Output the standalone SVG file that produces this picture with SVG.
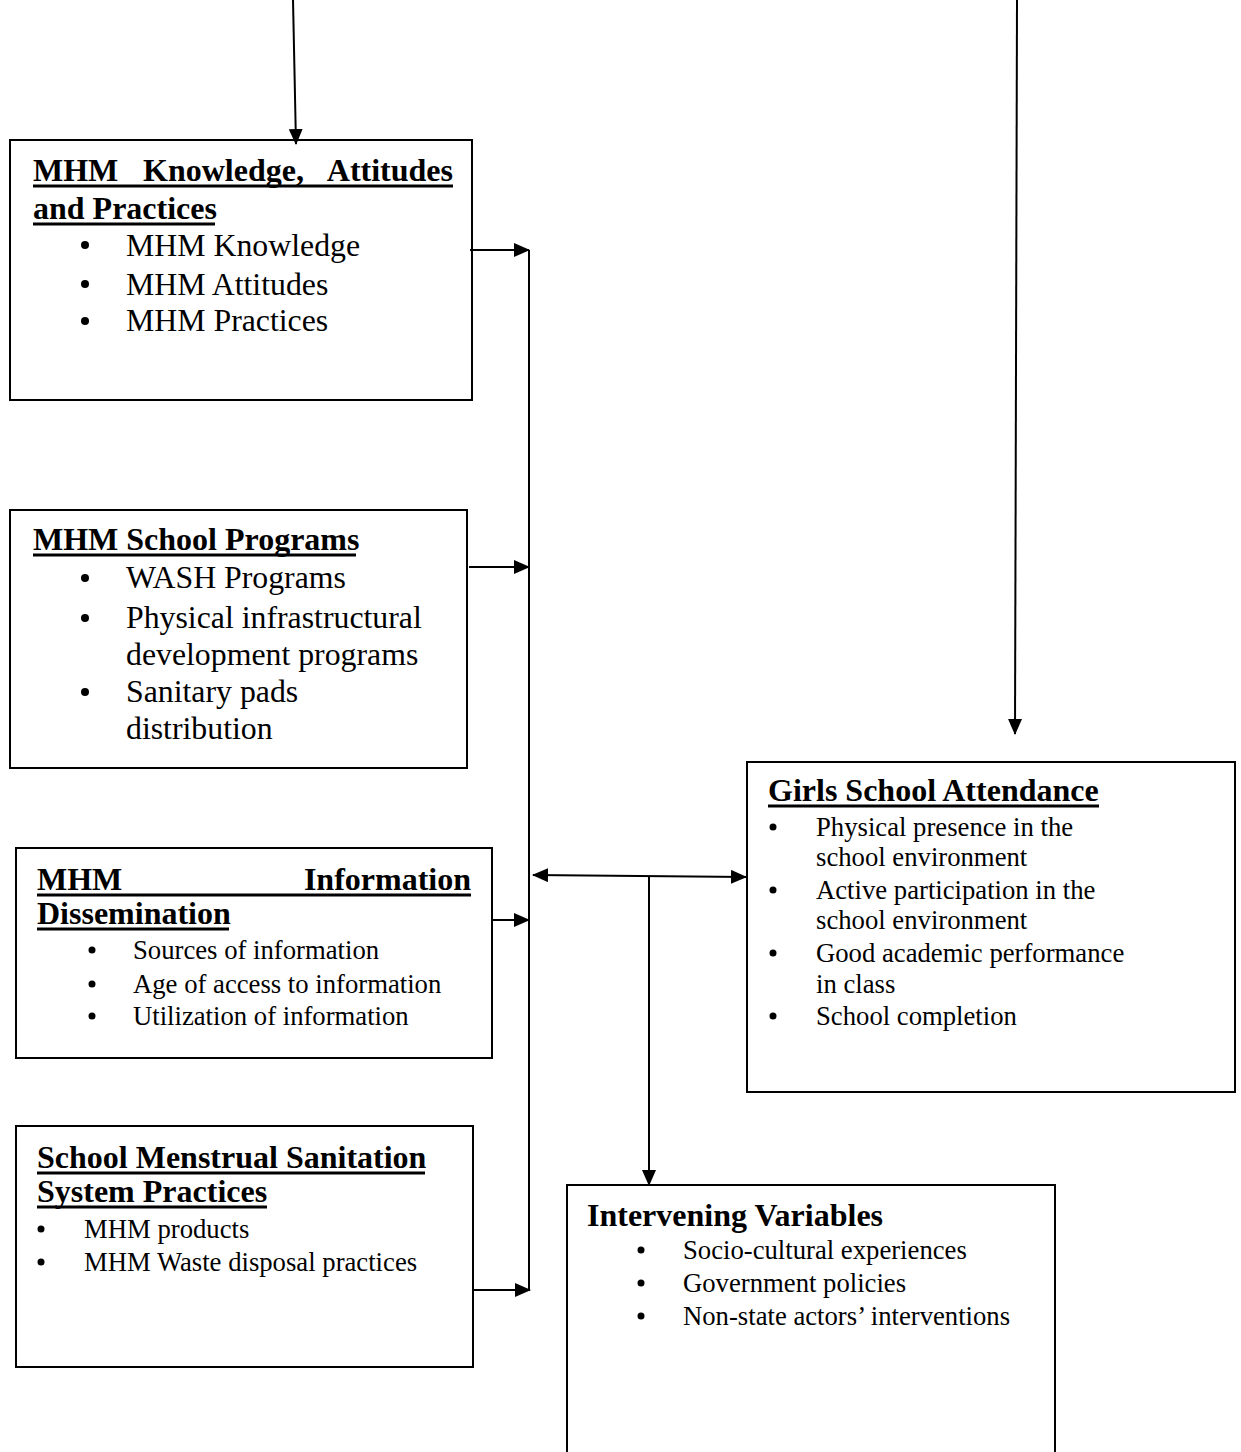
<svg xmlns="http://www.w3.org/2000/svg" width="1241" height="1452" viewBox="0 0 1241 1452">
<style>
.box{fill:#fff;stroke:#000;stroke-width:2}
.t{font-family:"Liberation Serif","Times New Roman",serif;font-weight:bold;font-size:32px;fill:#000}
.b{font-family:"Liberation Serif","Times New Roman",serif;font-size:31.8px;fill:#000}
.s{font-family:"Liberation Serif","Times New Roman",serif;font-size:26.7px;fill:#000}
.u{stroke:#000;stroke-width:3}
.c{stroke:#000;stroke-width:2;fill:none}
</style>
<defs>
<marker id="ah" markerUnits="userSpaceOnUse" markerWidth="16" markerHeight="14" refX="15" refY="7" orient="auto-start-reverse">
<path d="M0,0 L16,7 L0,14 Z" fill="#000"/>
</marker>
</defs>
<rect width="1241" height="1452" fill="#fff"/>

<g id="kap">
<rect class="box" x="10" y="140" width="462" height="260"/>
<text class="t" x="33" y="181">MHM</text>
<text class="t" x="143" y="181">Knowledge,</text>
<text class="t" x="453" y="181" text-anchor="end">Attitudes</text>
<line class="u" x1="33" y1="186" x2="453" y2="186"/>
<text class="t" x="33" y="219">and Practices</text>
<line class="u" x1="33" y1="224" x2="215" y2="224"/>
<circle cx="85" cy="245" r="4"/>
<text class="b" x="126" y="256">MHM Knowledge</text>
<circle cx="85" cy="284" r="4"/>
<text class="b" x="126" y="295">MHM Attitudes</text>
<circle cx="85" cy="321" r="4"/>
<text class="b" x="126" y="331">MHM Practices</text>
</g>

<g id="programs">
<rect class="box" x="10" y="510" width="457" height="258"/>
<text class="t" x="33" y="550">MHM School Programs</text>
<line class="u" x1="33" y1="555" x2="356" y2="555"/>
<circle cx="85" cy="578" r="4"/>
<text class="b" x="126" y="588">WASH Programs</text>
<circle cx="85" cy="618" r="4"/>
<text class="b" x="126" y="628">Physical infrastructural</text>
<text class="b" x="126" y="665">development programs</text>
<circle cx="85" cy="692" r="4"/>
<text class="b" x="126" y="702">Sanitary pads</text>
<text class="b" x="126" y="739">distribution</text>
</g>

<g id="info">
<rect class="box" x="16" y="848" width="476" height="210"/>
<text class="t" x="37" y="890">MHM</text>
<text class="t" x="471" y="890" text-anchor="end">Information</text>
<line class="u" x1="37" y1="895" x2="471" y2="895"/>
<text class="t" x="37" y="924">Dissemination</text>
<line class="u" x1="37" y1="929" x2="229" y2="929"/>
<circle cx="92" cy="950" r="3.5"/>
<text class="s" x="133" y="959">Sources of information</text>
<circle cx="92" cy="984" r="3.5"/>
<text class="s" x="133" y="993">Age of access to information</text>
<circle cx="92" cy="1016" r="3.5"/>
<text class="s" x="133" y="1025">Utilization of information</text>
</g>

<g id="sanitation">
<rect class="box" x="16" y="1126" width="457" height="241"/>
<text class="t" x="37" y="1168">School Menstrual Sanitation</text>
<line class="u" x1="37" y1="1173" x2="425" y2="1173"/>
<text class="t" x="37" y="1202">System Practices</text>
<line class="u" x1="37" y1="1207" x2="267" y2="1207"/>
<circle cx="41" cy="1229" r="3.5"/>
<text class="s" x="84" y="1238">MHM products</text>
<circle cx="41" cy="1262" r="3.5"/>
<text class="s" x="84" y="1271">MHM Waste disposal practices</text>
</g>

<g id="attendance">
<rect class="box" x="747" y="762" width="488" height="330"/>
<text class="t" x="768" y="801">Girls School Attendance</text>
<line class="u" x1="768" y1="806" x2="1099" y2="806"/>
<circle cx="773" cy="827" r="3.5"/>
<text class="s" x="816" y="836">Physical presence in the</text>
<text class="s" x="816" y="866">school environment</text>
<circle cx="773" cy="890" r="3.5"/>
<text class="s" x="816" y="899">Active participation in the</text>
<text class="s" x="816" y="929">school environment</text>
<circle cx="773" cy="953" r="3.5"/>
<text class="s" x="816" y="962">Good academic performance</text>
<text class="s" x="816" y="993">in class</text>
<circle cx="773" cy="1016" r="3.5"/>
<text class="s" x="816" y="1025">School completion</text>
</g>

<g id="intervening">
<rect class="box" x="567" y="1185" width="488" height="290"/>
<text class="t" x="587" y="1226">Intervening Variables</text>
<circle cx="641" cy="1250" r="3.5"/>
<text class="s" x="683" y="1259">Socio-cultural experiences</text>
<circle cx="641" cy="1283" r="3.5"/>
<text class="s" x="683" y="1292">Government policies</text>
<circle cx="641" cy="1316" r="3.5"/>
<text class="s" x="683" y="1325">Non-state actors’ interventions</text>
</g>

<g id="connectors">
<line class="c" x1="293" y1="0" x2="296" y2="144" marker-end="url(#ah)"/>
<line class="c" x1="1017" y1="0" x2="1015" y2="734" marker-end="url(#ah)"/>
<line class="c" x1="470" y1="250" x2="529" y2="250" marker-end="url(#ah)"/>
<line class="c" x1="469" y1="567" x2="529" y2="567" marker-end="url(#ah)"/>
<line class="c" x1="492" y1="920" x2="529" y2="920" marker-end="url(#ah)"/>
<line class="c" x1="473" y1="1290" x2="530" y2="1290" marker-end="url(#ah)"/>
<line class="c" x1="529" y1="250" x2="529" y2="1290"/>
<line class="c" x1="533" y1="875" x2="746" y2="877" marker-start="url(#ah)" marker-end="url(#ah)"/>
<line class="c" x1="649" y1="876" x2="649" y2="1185" marker-end="url(#ah)"/>
</g>
</svg>
